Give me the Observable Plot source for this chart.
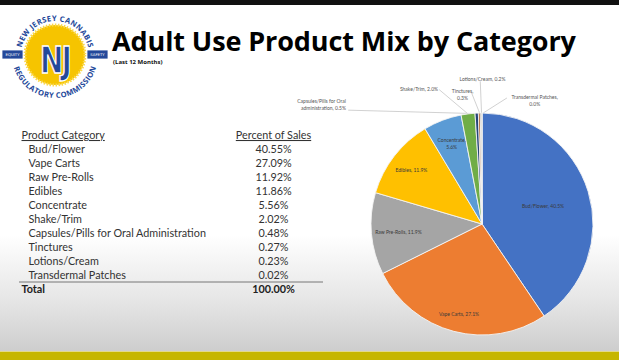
<!DOCTYPE html>
<html><head><meta charset="utf-8">
<script src="https://cdn.jsdelivr.net/npm/d3@7"></script>
<script src="https://cdn.jsdelivr.net/npm/@observablehq/plot@0.6"></script>
<style>
html,body{margin:0;padding:0;}
body{width:619px;height:360px;position:relative;overflow:hidden;
  background:linear-gradient(to bottom,#fff 0px,#fff 235px,#e6e6e6 300px,#cdcdcd 352px);}
#topbar{position:absolute;left:0;top:0;width:619px;height:5px;background:#111;}
#bottomband{position:absolute;left:0;top:351px;width:619px;height:9px;background:#c6b600;border-top:1px solid #e2d98a;}
#title{position:absolute;left:112px;top:24.5px;font:700 27px "Open Sans";line-height:32px;color:#000;white-space:nowrap;letter-spacing:-0.1px;}
#subtitle{position:absolute;left:113px;top:58px;font:700 6px "Open Sans";line-height:8px;color:#111;white-space:nowrap;}
#logo{position:absolute;left:0;top:3px;}
#table{position:absolute;left:0;top:120px;}
#pie{position:absolute;left:290px;top:60px;}
.hdr text{text-decoration:underline;}
</style>
</head>
<body>
<div id="topbar"></div>
<svg id="logo" width="110" height="105" viewBox="0 0 110 105">
  <circle cx="55" cy="52" r="46" fill="#fff"/>
  <circle cx="55" cy="52" r="30" fill="#f6c400" stroke="#fbd84a" stroke-width="3" stroke-dasharray="1.5 1.5"/>
  <g id="ringText"></g>
  <rect x="2" y="47" width="21" height="9" fill="#24489a" stroke="#fff" stroke-width="0.8"/>
  <rect x="87" y="47" width="21" height="9" fill="#24489a" stroke="#fff" stroke-width="0.8"/>
  <text x="12.5" y="53.3" font-family="DejaVu Sans" font-size="3.8" fill="#fff" text-anchor="middle">EQUITY</text>
  <text x="97.5" y="53.3" font-family="DejaVu Sans" font-size="3.8" fill="#fff" text-anchor="middle">SAFETY</text>
  <text transform="translate(55,70) scale(1,1.3)" font-family="DejaVu Sans" font-weight="bold" font-size="28" fill="#24489a" stroke="#fff" stroke-width="1" text-anchor="middle" letter-spacing="-2">NJ</text>
</svg>
<div id="title">Adult Use Product Mix by Category</div>
<div id="subtitle">(Last 12 Months)</div>
<div id="table"></div>
<div id="pie"></div>
<div id="bottomband"></div>
<script>
// ---------- data ----------
const categories = ["Bud/Flower","Vape Carts","Raw Pre-Rolls","Edibles","Concentrate","Shake/Trim","Capsules/Pills for Oral Administration","Tinctures","Lotions/Cream","Transdermal Patches"];
const percentOfSales = [40.55,27.09,11.92,11.86,5.56,2.02,0.48,0.27,0.23,0.02];
const headers = ["Product Category","Percent of Sales"];
const totalLabel = "Total";
const totalPercent = 100.00;
const pieLabels = ["Bud/Flower","Vape Carts","Raw Pre-Rolls","Edibles","Concentrate","Shake/Trim","Capsules/Pills for Oral\nadministration","Tinctures,\n","Lotions/Cream","Transdermal Patches,\n"];
const sliceColors = ["#4472C4","#ED7D31","#A5A5A5","#FFC000","#5B9BD5","#70AD47","#264478","#9E480E","#636363","#997300"];
const logoTop = "NEW JERSEY CANNABIS";
const logoBottom = "REGULATORY COMMISSION";

// ---------- logo ring text (one letter per text element) ----------
(function(){
  const cx=55, cy=52, fs=7.6;
  const ctx=document.createElement("canvas").getContext("2d");
  ctx.font=`bold ${fs}px "Open Sans"`;
  const g=d3.select("#ringText");
  function place(str, r, top){
    const widths=[...str].map(ch=>ctx.measureText(ch).width+0.35);
    const total=d3.sum(widths);
    let acc=-total/2;
    [...str].forEach((ch,i)=>{
      const mid=acc+widths[i]/2; acc+=widths[i];
      const a=mid/r;
      let x,y,rot;
      if(top){ x=cx+r*Math.sin(a); y=cy-r*Math.cos(a); rot=a*180/Math.PI; }
      else { x=cx+r*Math.sin(a); y=cy+r*Math.cos(a); rot=-a*180/Math.PI; }
      if(ch===" ") return;
      g.append("text").attr("transform",`translate(${x},${y}) rotate(${rot})`)
        .attr("text-anchor","middle").attr("font-family","Open Sans").attr("font-weight","bold")
        .attr("font-size",fs).attr("fill","#24489a").text(ch);
    });
  }
  place(logoTop, 34, true);
  place(logoBottom, 43, false);
})();

// ---------- layout (not data) ----------
const insideLabelRadius = [0.57,0.83,0.76,0.81,0.78];
const calloutLayout = [
  null,null,null,null,null,
  {lx:-0.40, ly:1.225, sx:-0.39, sy:1.215, anchor:"end"},
  {lx:-1.23, ly:1.085, sx:-1.21, sy:1.03, anchor:"end"},
  {lx:-0.18, ly:1.175, sx:-0.10, sy:1.19, anchor:"middle"},
  {lx:0.0,  ly:1.315, sx:-0.02, sy:1.29, anchor:"middle"},
  {lx:0.47, ly:1.115, sx:0.22, sy:1.14, anchor:"middle"}
];

// ---------- table ----------
const fmt = v => v.toFixed(2) + "%";
const rowKeys = ["__header", ...categories, "__total"];
const tableRows = categories.map((c,i)=>({key:c, label:c, value:fmt(percentOfSales[i])}));
const tableFont = {fontFamily:"Lato", fontSize:10.8};
const table = Plot.plot({
  width:330, height:185, marginLeft:19, marginRight:7, marginTop:0, marginBottom:0,
  x:{type:"point", domain:["label","value"], range:[28,273], padding:0, axis:null},
  y:{type:"point", domain:rowKeys, range:[10.5,174], padding:0, axis:null},
  style:{background:"transparent", fontFamily:"Lato", fontSize:"10.8px"},
  marks:[
    Plot.text(tableRows,{x:()=>"label", y:"key", text:"label", textAnchor:"start", fill:"#333", ...tableFont}),
    Plot.text(tableRows,{x:()=>"value", y:"key", text:"value", textAnchor:"middle", fill:"#333", ...tableFont}),
    Plot.text([headers[0]],{x:()=>"label", y:()=>"__header", text:d=>d, textAnchor:"start", dx:-7, fill:"#333", className:"hdr", ...tableFont}),
    Plot.text([headers[1]],{x:()=>"value", y:()=>"__header", text:d=>d, textAnchor:"middle", fill:"#333", className:"hdr", ...tableFont}),
    Plot.ruleY(["__total"],{y:d=>d, dy:-7.5, stroke:"#777", strokeWidth:1}),
    Plot.text([totalLabel],{x:()=>"label", y:()=>"__total", text:d=>d, textAnchor:"start", dx:-7, fill:"#222", fontWeight:"bold", ...tableFont}),
    Plot.text([totalPercent],{x:()=>"value", y:()=>"__total", text:d=>fmt(d), textAnchor:"middle", fill:"#222", fontWeight:"bold", ...tableFont})
  ]
});
document.getElementById("table").append(table);

// ---------- pie ----------
const pieData = categories.map((c,i)=>({name:c, label:pieLabels[i], value:percentOfSales[i], color:sliceColors[i], i}));
const arcs = d3.pie().sort(null).value(d=>d.value)(pieData);
arcs.forEach(a=>{ a.mid=(a.startAngle+a.endAngle)/2; });
const pct = v => v.toFixed(1) + "%";

const inside = arcs.filter(a=>a.data.i<5).map(a=>{
  const k = insideLabelRadius[a.data.i];
  return {x:k*Math.sin(a.mid), y:k*Math.cos(a.mid), text: a.data.i===4 ? "Concentrate,\n" + pct(a.data.value) : a.data.label + ", " + pct(a.data.value)};
});
const callouts = arcs.filter(a=>a.data.i>=5).map(a=>{
  const L = calloutLayout[a.data.i];
  const sep = a.data.label.endsWith("\n") ? "" : ", ";
  return {...L, ex:Math.sin(a.mid), ey:Math.cos(a.mid), text:a.data.label + sep + pct(a.data.value)};
});

function pieSlices(index, scales, values, dimensions, context){
  const cx = scales.x(0), cy = scales.y(0), r = scales.x(1) - scales.x(0);
  const arc = d3.arc().innerRadius(0).outerRadius(r);
  const g = d3.create("svg:g").attr("transform",`translate(${cx},${cy})`);
  g.selectAll("path").data(arcs).join("path")
    .attr("d", arc).attr("fill", d=>d.data.color)
    .attr("stroke","#f4f4f4").attr("stroke-width",0.9).attr("stroke-linejoin","round");
  return g.node();
}

const pie = Plot.plot({
  width:329, height:292, margin:0,
  x:{domain:[-1,1], range:[81,303], axis:null},
  y:{domain:[-1,1], range:[275,53], axis:null},
  style:{background:"transparent"},
  marks:[
    Plot.link(callouts,{x1:"sx", y1:"sy", x2:"ex", y2:"ey", stroke:"#bdbdbd", strokeWidth:0.7}),
    pieSlices,
    Plot.text(inside,{x:"x", y:"y", text:"text", fill:"#3a3a3a", fontSize:5, fontFamily:"Lato", lineHeight:1.4}),
    Plot.text(callouts.filter(d=>d.anchor==="end"),{x:"lx", y:"ly", text:"text", textAnchor:"end", fill:"#555", fontSize:5, fontFamily:"Lato", lineHeight:1.4}),
    Plot.text(callouts.filter(d=>d.anchor==="middle"),{x:"lx", y:"ly", text:"text", textAnchor:"middle", fill:"#555", fontSize:5, fontFamily:"Lato", lineHeight:1.4})
  ]
});
document.getElementById("pie").append(pie);
</script>
</body></html>
